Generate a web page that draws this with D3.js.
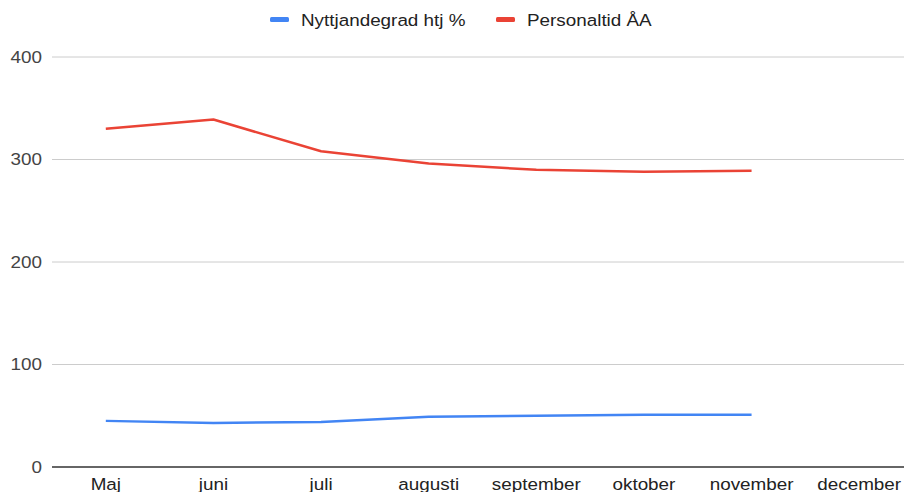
<!DOCTYPE html>
<html>
<head>
<meta charset="utf-8">
<script src="https://cdn.jsdelivr.net/npm/d3@7/dist/d3.min.js"></script>
<style>
  html, body { margin: 0; padding: 0; background: #fff; }
  svg { display: block; font-family: 'Liberation Sans', Arial, sans-serif; }
</style>
</head>
<body>
<div id="chart"></div>
<script>
const months = ['Maj', 'juni', 'juli', 'augusti', 'september', 'oktober', 'november', 'december'];
const nyttjandegrad = [45, 43, 44, 49, 50, 51, 51, null];
const personaltid = [330, 339, 308, 296, 290, 288, 289, null];
const yTicks = [0, 100, 200, 300, 400];
const seriesNames = ['Nyttjandegrad htj %', 'Personaltid ÅA'];
const seriesColors = ['#4285f4', '#ea4335'];

const width = 904;
const height = 492;
const plot = { left: 52, right: 913, top: 57, bottom: 467 };
const fontSize = 17;
const stretch = 1.11; // reference text is a little wider than the font

const svg = d3.select('#chart')
    .append('svg')
    .attr('width', width)
    .attr('height', height);

const x = d3.scaleBand()
    .domain(months)
    .range([plot.left, plot.right]);

const y = d3.scaleLinear()
    .domain([0, 400])
    .range([plot.bottom, plot.top]);

function stretchedText(sel, px, py) {
    return sel.append('text')
        .attr('transform', `translate(${px},${py}) scale(${stretch},1)`)
        .style('font-size', `${fontSize}px`);
}

// gridlines
svg.append('g')
    .selectAll('line')
    .data(yTicks.filter(t => t > 0))
    .enter()
    .append('line')
    .attr('x1', plot.left)
    .attr('x2', width)
    .attr('y1', d => y(d))
    .attr('y2', d => y(d))
    .style('stroke', '#cccccc')
    .style('stroke-width', '1px');

// y labels
const yLabels = svg.append('g');
yTicks.forEach(t => {
    stretchedText(yLabels, 42, y(t))
        .attr('dy', '0.35em')
        .attr('text-anchor', 'end')
        .style('fill', '#444')
        .text(t);
});

// x labels
const xLabels = svg.append('g');
months.forEach(m => {
    stretchedText(xLabels, x(m) + x.bandwidth() / 2, plot.bottom + 23)
        .attr('text-anchor', 'middle')
        .style('fill', '#222')
        .text(m);
});

// lines
const line = d3.line()
    .defined(d => d.v !== null)
    .x(d => x(d.m) + x.bandwidth() / 2)
    .y(d => y(d.v));

[nyttjandegrad, personaltid].forEach((values, i) => {
    svg.append('path')
        .datum(months.map((m, j) => ({ m: m, v: values[j] })))
        .attr('d', line)
        .style('fill', 'none')
        .style('stroke', seriesColors[i])
        .style('stroke-width', '2.5px')
        .style('stroke-linejoin', 'round');
});

// baseline
svg.append('line')
    .attr('x1', plot.left)
    .attr('x2', width)
    .attr('y1', y(0))
    .attr('y2', y(0))
    .style('stroke', '#333')
    .style('stroke-width', '1.3px');

// legend
const legendX = [270, 496];
const legend = svg.append('g');
seriesNames.forEach((name, i) => {
    legend.append('rect')
        .attr('x', legendX[i])
        .attr('y', 17)
        .attr('width', 19)
        .attr('height', 5)
        .attr('rx', 1.5)
        .style('fill', seriesColors[i]);
    stretchedText(legend, legendX[i] + 31, 20)
        .attr('dy', '0.35em')
        .style('fill', '#222')
        .text(name);
});
</script>
</body>
</html>
